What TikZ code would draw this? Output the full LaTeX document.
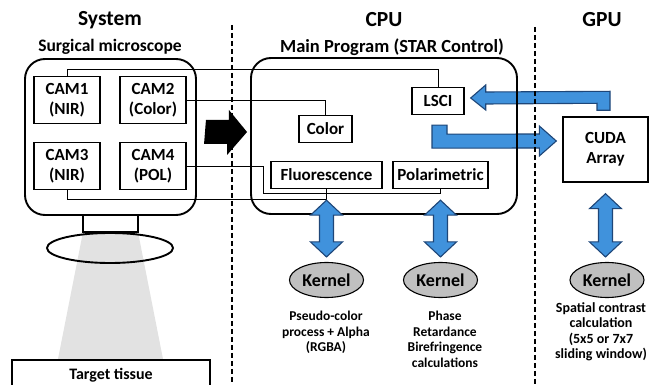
\documentclass[tikz,border=0pt]{standalone}
\usepackage{fontspec}
\setmainfont{Carlito}
\usetikzlibrary{calc,shapes.geometric}

\definecolor{arrowblue}{RGB}{64,146,220}
\definecolor{arrowedge}{RGB}{30,70,120}
\definecolor{kernelgray}{RGB}{192,192,192}
\definecolor{beamgray}{RGB}{226,226,226}

\tikzset{
  headtext/.style={font=\fontsize{21.5}{24}\selectfont\bfseries},
  subhead/.style={font=\fontsize{17.5}{20}\selectfont\bfseries},
  outerbox/.style={draw, line width=1.9pt, rounded corners=20pt},
  cambox/.style={draw, line width=1.4pt, minimum width=66pt, minimum height=47pt, inner sep=0pt, align=center, font=\fontsize{17}{20}\selectfont\bfseries},
  progbox/.style={draw, line width=1.4pt, minimum height=27pt, inner sep=0pt, align=center, font=\fontsize{17}{20}\selectfont\bfseries},
  kernel/.style={ellipse, draw, line width=1.1pt, fill=kernelgray, minimum width=74pt, minimum height=35pt, inner sep=0pt, font=\fontsize{18}{20}\selectfont\bfseries},
  capt/.style={align=center, inner sep=0pt, font=\fontsize{13.5}{15.5}\selectfont\bfseries},
  barrow/.style={fill=arrowblue, draw=arrowedge, line width=1.1pt},
  wire/.style={line width=0.9pt},
  divider/.style={line width=1.2pt, dash pattern=on 5pt off 3pt}
}

\begin{document}
\begin{tikzpicture}[x=1pt, y=-1pt]
    \useasboundingbox (0,0) rectangle (649,385);

    % Headings
    \node[headtext] (hsys) at (110,20) {System};
    \node[subhead] (hscope) at (110,47) {Surgical microscope};
    \node[headtext] (hcpu) at (384,20) {CPU};
    \node[subhead, font=\fontsize{18.5}{20}\selectfont\bfseries] (hmain) at (392,47) {Main Program (STAR Control)};
    \node[headtext] (hgpu) at (602,20) {GPU};

    % Microscope body, lens and light cone
    \fill[beamgray] (83,232) -- (138,232) -- (163,359) -- (58,359) -- cycle;
    \draw[line width=1.9pt] (83,215) rectangle (138,232);
    \draw[line width=1.9pt] (110,248) ellipse (63pt and 15pt);
    \node[outerbox, minimum width=171pt, minimum height=156pt] (micro) at (110.5,137) {};

    % Target tissue
    \draw[line width=1.9pt] (12,360) rectangle (210,400);
    \node[subhead, font=\fontsize{16}{19}\selectfont\bfseries] (tissue) at (111,375) {Target tissue};

    % Cameras
    \node[cambox] (cam1) at (67,100) {CAM1\\(NIR)};
    \node[cambox] (cam2) at (153,100) {CAM2\\(Color)};
    \node[cambox] (cam3) at (67,166) {CAM3\\(NIR)};
    \node[cambox] (cam4) at (153,166) {CAM4\\(POL)};

    % GPU side
    \node[progbox, minimum width=85pt, minimum height=65pt] (cuda) at (605.5,149.5) {CUDA\\Array};

    % Main program modules
    \node[progbox, minimum width=53pt] (color) at (325.5,129) {Color};
    \node[progbox, minimum width=52pt] (lsci) at (438,101) {LSCI};
    \node[progbox, minimum width=111pt] (fl) at (326.5,175) {Fluorescence};
    \node[progbox, minimum width=95pt] (pol) at (440.5,175) {Polarimetric};

    % LSCI <-> CUDA transfer
    \coordinate (s1) at ($(lsci.south)+(-6,10)$);
    \coordinate (t1) at ($(cuda.west)+(-6,-8.5)$);
    \filldraw[barrow] (s1) -- ++(15,0) -- ++(0,9) -- ($(t1)+(-17,-7)$) -- ++(0,-8) -- (t1)
        -- ++(-17,15) -- ++(0,-8) -- ($(s1)+(0,23)$) -- cycle;
    \coordinate (s2) at ($(cuda.north)+(-8.5,-6)$);
    \coordinate (t2) at ($(lsci.east)+(6,-3)$);
    \filldraw[barrow] (s2) -- ++(13,0) -- ++(0,-19) -- ($(t2)+(15,-6)$) -- ++(0,-7) -- (t2)
        -- ++(15,12) -- ++(0,-6) -- ($(s2)+(0,-7)$) -- cycle;

    % CPU frame and column dividers
    \node[outerbox, minimum width=266pt, minimum height=156pt] (cpu) at (384,136) {};
    \draw[divider] (232,25) -- (232,385);
    \draw[divider] (535,27) -- (535,385);

    % Camera feeds
    \draw[wire] (cam1.north) -- ++(0,-6) -| (lsci.north);
    \draw[wire] (cam2.east) -| (color.north);
    \draw[wire] (cam4.east) -- ++(77,0) -- ++(0,27) -| (pol.south);
    \draw[wire] (cam3.south) -- ++(0,9.5) -| (fl.south);

    % Big arrow into the CPU
    \fill[black] ($(micro.east)+(9,-17)$) -- ++(23,0) -- ++(0,-10) -- ($(cpu.west)+(-3,-4)$)
        -- ++(-20,23) -- ++(0,-11) -- ++(-23,0) -- cycle;

    % Kernels
    \node[kernel] (k1) at (326.5,280) {Kernel};
    \node[kernel] (k2) at (440.5,280) {Kernel};
    \node[kernel] (k3) at (607,280) {Kernel};

    % Module <-> kernel transfers
    \foreach \src/\dst in {fl/k1, pol/k2, cuda/k3} {
        \filldraw[barrow] ($(\src.south)+(0,11)$) -- ++(16,15) -- ++(-9,0)
            -- ($(\src.south |- \dst.north)+(7,-20)$) -- ++(9,0) -- ($(\src.south |- \dst.north)+(0,-5)$)
            -- ++(-16,-15) -- ++(9,0) -- ($(\src.south)+(-7,26)$) -- ++(-9,0) -- cycle;
    }

    % Kernel descriptions
    \node[capt, anchor=north] (d1) at (326,311) {Pseudo-color\\process + Alpha\\(RGBA)};
    \node[capt, anchor=north] (d2) at (445,311) {Phase\\Retardance\\Birefringence\\calculations};
    \node[capt, anchor=north, font=\fontsize{14}{15.5}\selectfont\bfseries] (d3) at (601,302) {Spatial contrast\\calculation\\(5x5 or 7x7\\sliding window)};
\end{tikzpicture}
\end{document}
